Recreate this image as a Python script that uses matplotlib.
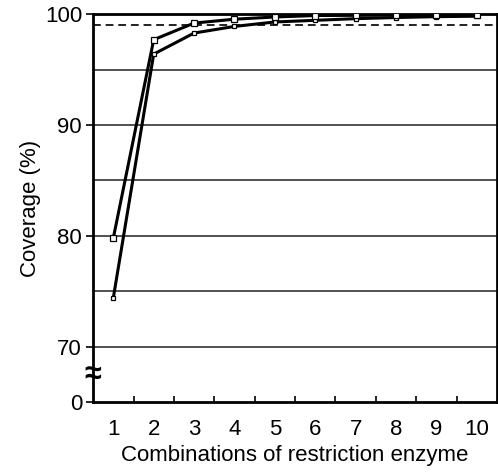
import matplotlib
matplotlib.use("Agg")
import matplotlib.pyplot as plt

plt.rcParams["font.family"] = ["Liberation Sans", "DejaVu Sans"]

#DATA
combinations = [1, 2, 3, 4, 5, 6, 7, 8, 9, 10]
coverage_a = [79.8, 97.7, 99.2, 99.55, 99.75, 99.88, 99.9, 99.92, 99.94, 99.95]
coverage_b = [74.4, 96.4, 98.3, 98.9, 99.3, 99.45, 99.6, 99.7, 99.78, 99.82]
threshold = 99
grid_levels = [70, 75, 80, 85, 90, 95]
ytick_pos = [65, 70, 80, 90, 100]
ytick_labels = ["0", "70", "80", "90", "100"]

fig = plt.figure(figsize=(4.98, 4.74), dpi=100)
ax = fig.add_axes([0.187, 0.152, 0.811, 0.818])

#horizontal reference lines
for g in grid_levels:
    ax.axhline(g, color="#333333", linewidth=1.2, zorder=1)
ax.axhline(threshold, color="#222222", linewidth=1.4, linestyle=(0, (4, 2.5)), zorder=2)

ax.plot(combinations, coverage_b, color="black", linewidth=2.2, marker="s",
        markersize=3.5, markerfacecolor="white", markeredgecolor="black",
        markeredgewidth=0.9, zorder=3)
ax.plot(combinations, coverage_a, color="black", linewidth=2.2, marker="s",
        markersize=4.5, markerfacecolor="white", markeredgecolor="black",
        markeredgewidth=0.9, zorder=4)

ax.set_xlim(0.5, 10.5)
ax.set_ylim(65, 100)
ax.set_xticks(combinations)
ax.set_xticks([c + 0.5 for c in combinations[:-1]], minor=True)
ax.tick_params(axis="x", which="major", length=0, pad=12, labelsize=16)
ax.tick_params(axis="x", which="minor", direction="in", length=4, width=1.2)
ax.set_yticks(ytick_pos)
ax.set_yticklabels(ytick_labels)
ax.tick_params(axis="y", direction="out", length=5, width=1.2, labelsize=16, pad=3)

for s in ax.spines.values():
    s.set_linewidth(2)

#axis break mark
ax.text(0.5, 67.4, "\u2248", fontsize=22, fontweight="bold", ha="center",
        va="center", clip_on=False, zorder=5)

ax.set_xlabel("Combinations of restriction enzyme", fontsize=16, labelpad=4)
ax.set_ylabel("Coverage (%)", fontsize=16, labelpad=3)

fig.savefig("out.png", dpi=100)
